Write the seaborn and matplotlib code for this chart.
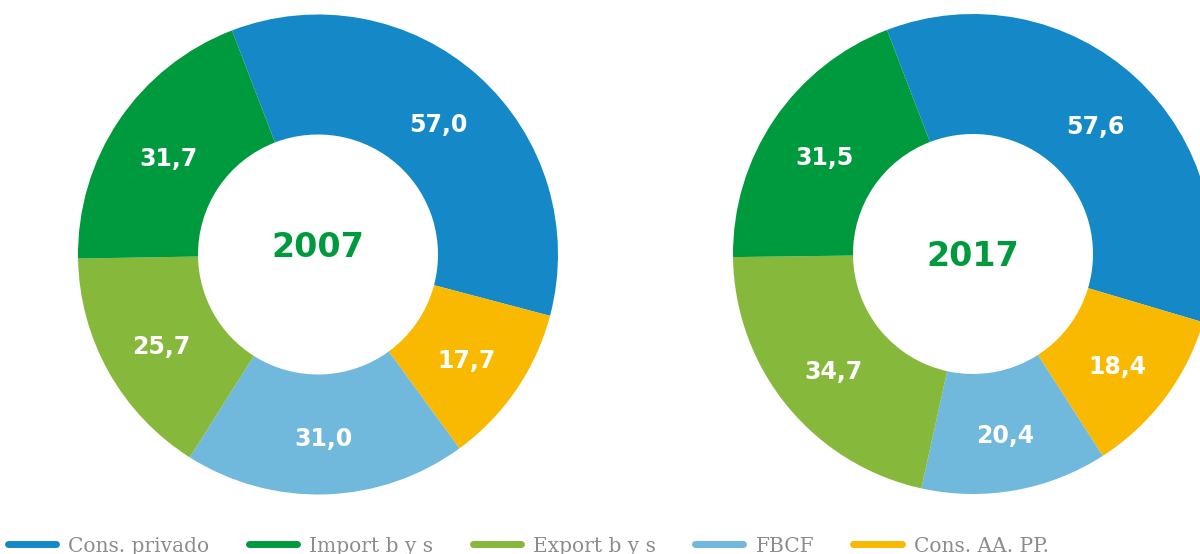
"""Donut charts: demand components 2007 vs 2017."""

import numpy as np
import matplotlib.pyplot as plt
import seaborn as sns
from matplotlib.lines import Line2D

categories = ["Cons. privado", "Cons. AA. PP.", "FBCF", "Export b y s", "Import b y s"]
values_2007 = [57.0, 17.7, 31.0, 25.7, 31.7]
values_2017 = [57.6, 18.4, 20.4, 34.7, 31.5]
years = ["2007", "2017"]
colors = ["#1589c7", "#f9b900", "#71b8dd", "#86b83b", "#009a3e"]
legend_order = ["Cons. privado", "Import b y s", "Export b y s", "FBCF", "Cons. AA. PP."]

sns.set_theme(style="white")
plt.rcParams["font.family"] = ["DejaVu Sans"]

W, H = 1200, 554
fig = plt.figure(figsize=(W / 100, H / 100), dpi=100)


def donut(ax, values, year, year_dy):
    wedges, _ = ax.pie(values, colors=colors, startangle=111, counterclock=False,
                       radius=1, wedgeprops=dict(width=0.5, edgecolor="none"))
    for w, v in zip(wedges, values):
        mid = np.deg2rad((w.theta1 + w.theta2) / 2)
        ax.text(0.75 * np.cos(mid), 0.75 * np.sin(mid) - 0.02, f"{v:.1f}".replace(".", ","),
                ha="center", va="center", color="white", fontsize=17, fontweight="bold")
    ax.text(0, year_dy, year, ha="center", va="center", color="#009a3e",
            fontsize=24, fontweight="bold")
    ax.set_xlim(-1, 1)
    ax.set_ylim(-1, 1)
    ax.set_axis_off()


r = 240
for (cx, cy), vals, year, dy in [((318, 254.5), values_2007, years[0], 0.03),
                                 ((973, 254), values_2017, years[1], -0.01)]:
    ax = fig.add_axes([(cx - r) / W, (H - cy - r) / H, 2 * r / W, 2 * r / H])
    donut(ax, vals, year, dy)

cmap = dict(zip(categories, colors))
handles = [Line2D([0], [0], color=cmap[c], lw=5, solid_capstyle="round") for c in legend_order]
fig.legend(handles, legend_order, loc="center left", bbox_to_anchor=(8 / W, 8 / H),
           ncol=5, frameon=False, handlelength=2.4, handletextpad=0.6, columnspacing=1.95,
           borderpad=0, borderaxespad=0, prop={"family": "DejaVu Serif", "size": 14.5},
           labelcolor="#8c8c8c")

fig.savefig("out.png", dpi=100)
